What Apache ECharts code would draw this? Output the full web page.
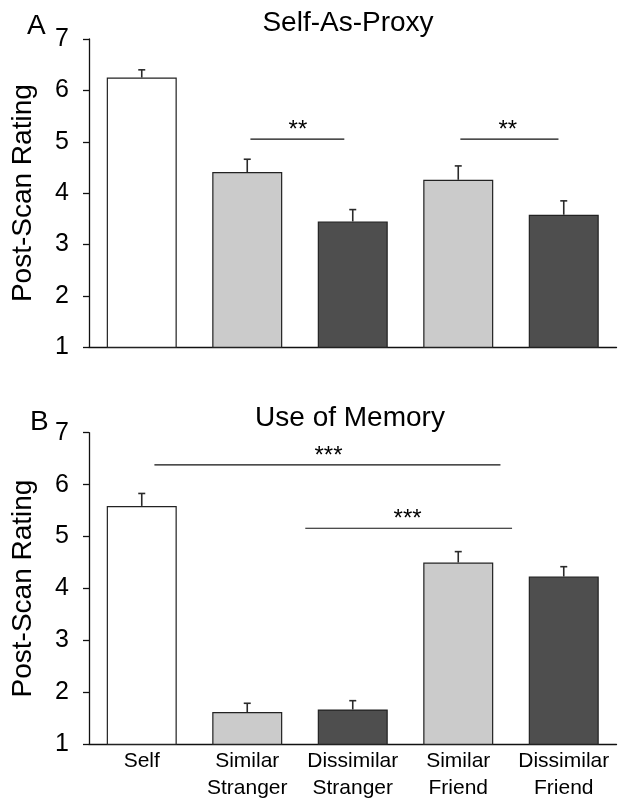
<!DOCTYPE html>
<html>
<head>
<meta charset="utf-8">
<script src="https://cdn.jsdelivr.net/npm/echarts@6/dist/echarts.min.js"></script>
<style>
html,body{margin:0;padding:0;background:#fff;}
#c{width:624px;height:810px;}
</style>
</head>
<body>
<div id="c"></div>
<script>
// ---- data ----
var categories = ['Self', 'Similar\nStranger', 'Dissimilar\nStranger', 'Similar\nFriend', 'Dissimilar\nFriend'];
var yTicks = [1, 2, 3, 4, 5, 6, 7];
var proxyMeans = [6.25, 4.41, 3.45, 4.26, 3.58];
var proxyErrors = [0.15, 0.25, 0.23, 0.27, 0.27];
var memoryMeans = [5.59, 1.62, 1.67, 4.50, 4.23];
var memoryErrors = [0.24, 0.17, 0.17, 0.21, 0.19];
// significance brackets: [from (category position), to (category position), rating, stars position, label]
var proxySig = [[1.03, 1.92, 5.05, 1.48, '**'], [3.02, 3.95, 5.05, 3.47, '**']];
var memorySig = [[0.12, 3.40, 6.38, 1.77, '***'], [1.55, 3.51, 5.16, 2.52, '***']];
var barColors = ['#ffffff', '#cbcbcb', '#4e4e4e', '#cbcbcb', '#4e4e4e'];

var FONT = '"Liberation Sans", Arial, Helvetica, sans-serif';
var chart = echarts.init(document.getElementById('c'), null, {renderer: 'canvas'});

function barData(means) {
  return means.map(function (v, i) {
    return {value: v, itemStyle: {color: barColors[i]}};
  });
}
function errData(means, errs) {
  return means.map(function (v, i) { return [i, v, v + errs[i]]; });
}
function errRender(params, api) {
  var x = api.value(0);
  var p0 = api.coord([x, api.value(1)]);
  var p1 = api.coord([x, api.value(2)]);
  var cap = 3.5;
  return {
    type: 'group',
    children: [
      {type: 'line', shape: {x1: p0[0], y1: p0[1], x2: p1[0], y2: p1[1]}, style: {stroke: '#2a2a2a', lineWidth: 1.6}},
      {type: 'line', shape: {x1: p1[0] - cap, y1: p1[1], x2: p1[0] + cap, y2: p1[1]}, style: {stroke: '#2a2a2a', lineWidth: 1.6}}
    ]
  };
}
function sigRender(params, api) {
  var a = api.coord([api.value(0), api.value(2)]);
  var b = api.coord([api.value(1), api.value(2)]);
  var s = api.coord([api.value(3), api.value(2)]);
  return {
    type: 'group',
    children: [
      {type: 'line', shape: {x1: a[0], y1: a[1], x2: b[0], y2: b[1]}, style: {stroke: '#111', lineWidth: 1.2}},
      {type: 'text', x: s[0], y: a[1] + 3, style: {text: api.value(4), fill: '#000', font: '24px ' + FONT, align: 'center', verticalAlign: 'bottom'}}
    ]
  };
}

var grids = [
  {left: 89, top: 39, width: 527.5, height: 308.3},
  {left: 89, top: 432.7, width: 527.5, height: 311.6}
];

function yAxis(idx) {
  return {
    type: 'value', gridIndex: idx, min: yTicks[0], max: yTicks[yTicks.length - 1], interval: 1,
    name: 'Post-Scan Rating', nameLocation: 'middle', nameGap: 52,
    nameTextStyle: {fontFamily: FONT, fontSize: 28, color: '#000'},
    axisLine: {show: true, onZero: false, lineStyle: {color: '#111', width: 1.3}},
    axisTick: {show: true, length: 6, lineStyle: {color: '#111', width: 1.3}},
    axisLabel: {fontFamily: FONT, fontSize: 25, color: '#000', margin: 20},
    splitLine: {show: false}
  };
}
function catAxis(idx, showLabels) {
  return {
    type: 'category', gridIndex: idx, data: categories,
    axisLine: {show: true, onZero: false, lineStyle: {color: '#111', width: 1.3}},
    axisTick: {show: false},
    axisLabel: {show: showLabels, fontFamily: FONT, fontSize: 21, color: '#000', lineHeight: 27, margin: 3, interval: 0}
  };
}
function valX(idx) {
  return {type: 'value', gridIndex: idx, min: -0.5, max: 4.5, show: false};
}

var option = {
  animation: false,
  backgroundColor: '#fff',
  title: [
    {text: 'Self-As-Proxy', left: 343, top: 4, textAlign: 'center', textStyle: {fontFamily: FONT, fontSize: 28, fontWeight: 'normal', color: '#000'}},
    {text: 'Use of Memory', left: 345, top: 399, textAlign: 'center', textStyle: {fontFamily: FONT, fontSize: 28, fontWeight: 'normal', color: '#000'}},
    {text: 'A', left: 22, top: 7, textStyle: {fontFamily: FONT, fontSize: 28, fontWeight: 'normal', color: '#000'}},
    {text: 'B', left: 25, top: 403, textStyle: {fontFamily: FONT, fontSize: 28, fontWeight: 'normal', color: '#000'}}
  ],
  grid: grids,
  xAxis: [catAxis(0, false), catAxis(1, true), valX(0), valX(1)],
  yAxis: [yAxis(0), yAxis(1)],
  series: [
    {type: 'bar', xAxisIndex: 0, yAxisIndex: 0, data: barData(proxyMeans), barWidth: 70,
      itemStyle: {borderColor: '#222', borderWidth: 1.2}},
    {type: 'bar', xAxisIndex: 1, yAxisIndex: 1, data: barData(memoryMeans), barWidth: 70,
      itemStyle: {borderColor: '#222', borderWidth: 1.2}},
    {type: 'custom', xAxisIndex: 2, yAxisIndex: 0, data: errData(proxyMeans, proxyErrors), renderItem: errRender, z: 5},
    {type: 'custom', xAxisIndex: 3, yAxisIndex: 1, data: errData(memoryMeans, memoryErrors), renderItem: errRender, z: 5},
    {type: 'custom', xAxisIndex: 2, yAxisIndex: 0, data: proxySig, renderItem: sigRender, z: 6,
      dimensions: ['from', 'to', 'y', 'star', {name: 'label', type: 'ordinal'}], encode: {x: 0, y: 2}},
    {type: 'custom', xAxisIndex: 3, yAxisIndex: 1, data: memorySig, renderItem: sigRender, z: 6,
      dimensions: ['from', 'to', 'y', 'star', {name: 'label', type: 'ordinal'}], encode: {x: 0, y: 2}}
  ]
};
chart.setOption(option);
</script>
</body>
</html>
